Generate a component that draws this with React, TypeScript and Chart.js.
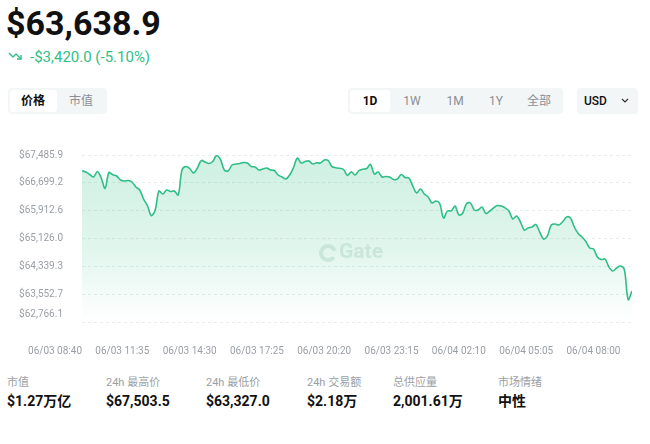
import React, { useEffect, useRef } from "react";
import { Chart, registerables } from "chart.js";

Chart.register(...registerables);

// ---- data ----
const STEP_MIN = 10; // minutes between samples, starting at 06/03 08:40
const PRICES = [
  67042, 67005, 66935, 66864, 67020, 66836, 66545, 66991, 66926, 66892,
  66779, 66751, 66765, 66723, 66582, 66497, 66242, 66058, 65776, 65917,
  66468, 66383, 66497, 66454, 66468, 66355, 67062, 67161, 67104, 66977,
  67118, 67330, 67288, 67246, 67302, 67470, 67359, 67062, 67034, 67203,
  67231, 67246, 67274, 67260, 67161, 67147, 67062, 67090, 67118, 67062,
  67048, 66921, 66864, 66807, 66921, 67133, 67401, 67260, 67302, 67316,
  67231, 67268, 67260, 67345, 67330, 67155, 67127, 67110, 67076, 66907,
  67014, 66921, 67042, 67082, 67104, 67217, 66949, 67005, 66864, 66878,
  66864, 66793, 66807, 66935, 66850, 66836, 66610, 66412, 66525, 66383,
  66299, 66129, 66186, 66115, 65705, 65903, 65908, 66044, 65790, 65846,
  66115, 66129, 65931, 65931, 66016, 65832, 65903, 65988, 66058, 66044,
  65993, 65903, 65677, 65762, 65592, 65366, 65422, 65451, 65521, 65309,
  65111, 65196, 65507, 65535, 65507, 65601, 65733, 65705, 65451, 65267,
  65168, 65041, 64857, 64829, 64602, 64532, 64546, 64320, 64207, 64291,
  64348, 64249, 63400, 63638.9,
];
const X_TICK_MINUTES = [0, 175, 350, 525, 700, 875, 1050, 1225, 1400];
const X_TICK_LABELS = [
  "06/03 08:40", "06/03 11:35", "06/03 14:30", "06/03 17:25", "06/03 20:20",
  "06/03 23:15", "06/04 02:10", "06/04 05:05", "06/04 08:00",
];
const X_MAX_MIN = 1430;
const Y_TICKS = [62766.1, 63552.7, 64339.3, 65126.0, 65912.6, 66699.2, 67485.9];
const Y_TICK_LABELS = [
  "$62,766.1", "$63,552.7", "$64,339.3", "$65,126.0", "$65,912.6", "$66,699.2", "$67,485.9",
];
const PRICE_TEXT = "$63,638.9";
const CHANGE_TEXT = "-$3,420.0 (-5.10%)";
const RANGE_TABS = ["1D", "1W", "1M", "1Y", "全部"];
const STAT_LABELS = ["市值", "24h 最高价", "24h 最低价", "24h 交易额", "总供应量", "市场情绪"];
const STAT_VALUES = ["$1.27万亿", "$67,503.5", "$63,327.0", "$2.18万", "2,001.61万", "中性"];

const GREEN = "#2fbf86";
const FONT = "Roboto, 'Noto Sans CJK SC', sans-serif";

const T: React.FC<{
  x: number; y: number; size: number; weight?: number; color?: string;
  align?: "left" | "center"; children: React.ReactNode;
}> = ({ x, y, size, weight = 400, color = "#111", align = "left", children }) => (
  <div
    style={{
      position: "absolute",
      left: x,
      top: y - size / 2 - 2,
      height: size + 4,
      lineHeight: `${size + 4}px`,
      fontSize: size,
      fontWeight: weight,
      color,
      whiteSpace: "nowrap",
      transform: align === "center" ? "translateX(-50%)" : undefined,
      fontFamily: FONT,
    }}
  >
    {children}
  </div>
);

const watermark = {
  id: "watermark",
  afterDatasetsDraw(chart: any) {
    const { ctx, chartArea } = chart;
    const cx = (chartArea.left + chartArea.right) / 2;
    const cy = chartArea.top + 97;
    ctx.save();
    ctx.beginPath();
    ctx.arc(cx - 29, cy + 1, 7, Math.PI * 0.2, Math.PI * 1.9);
    ctx.lineWidth = 4;
    ctx.strokeStyle = "rgba(196,226,212,0.8)";
    ctx.stroke();
    ctx.font = `bold 21px ${FONT}`;
    ctx.textBaseline = "middle";
    ctx.textAlign = "left";
    ctx.fillStyle = "rgba(196,226,212,0.8)";
    ctx.fillText("Gate", cx - 18, cy + 1);
    ctx.restore();
  },
};

const bottomYLabel = {
  id: "bottomYLabel",
  afterDraw(chart: any) {
    const y = chart.scales.y;
    const { ctx, chartArea } = chart;
    ctx.save();
    ctx.font = `10px ${FONT}`;
    ctx.fillStyle = "#9a9fa5";
    ctx.textAlign = "right";
    ctx.textBaseline = "middle";
    const py = Math.min(y.getPixelForValue(Y_TICKS[0]), chartArea.bottom - 8);
    ctx.fillText(Y_TICK_LABELS[0], y.right - 19, py);
    ctx.restore();
  },
};

function PriceChart() {
  const ref = useRef<HTMLCanvasElement>(null);
  useEffect(() => {
    if (!ref.current) return;
    const points = PRICES.map((p, i) => ({ x: i * STEP_MIN, y: p }));
    const chart = new Chart(ref.current, {
      type: "line",
      data: {
        datasets: [
          {
            data: points,
            borderColor: GREEN,
            borderWidth: 1.6,
            pointRadius: 0,
            tension: 0.35,
            fill: "start",
            backgroundColor: (c: any) => {
              const { chart } = c;
              const area = chart.chartArea;
              if (!area) return "rgba(47,191,134,0.2)";
              const g = chart.ctx.createLinearGradient(0, area.top, 0, area.bottom);
              g.addColorStop(0, "rgba(47,191,134,0.23)");
              g.addColorStop(0.55, "rgba(47,191,134,0.15)");
              g.addColorStop(1, "rgba(47,191,134,0.0)");
              return g;
            },
          },
        ],
      },
      options: {
        animation: false,
        responsive: false,
        maintainAspectRatio: false,
        layout: { padding: { top: 25, right: 18, bottom: 8, left: 0 } },
        plugins: { legend: { display: false }, tooltip: { enabled: false } },
        scales: {
          x: {
            type: "linear",
            min: 0,
            max: X_MAX_MIN,
            border: { display: false },
            grid: { display: false, drawTicks: false },
            afterBuildTicks: (s: any) => {
              s.ticks = X_TICK_MINUTES.map((v) => ({ value: v }));
            },
            afterFit: (s: any) => {
              s.height = 40;
            },
            ticks: {
              align: "end",
              padding: 23,
              maxRotation: 0,
              autoSkip: false,
              color: "#9a9fa5",
              font: { size: 10, family: FONT },
              callback: (v: any) => {
                const i = X_TICK_MINUTES.indexOf(Number(v));
                return i >= 0 ? X_TICK_LABELS[i] : "";
              },
            },
          },
          y: {
            min: Y_TICKS[0],
            max: Y_TICKS[Y_TICKS.length - 1],
            border: { display: false, dash: [3, 3] },
            grid: { color: "#e8eced", drawTicks: false, lineWidth: 1 },
            afterBuildTicks: (s: any) => {
              s.ticks = Y_TICKS.map((v) => ({ value: v }));
            },
            afterFit: (s: any) => {
              s.width = 82;
            },
            ticks: {
              padding: 19,
              autoSkip: false,
              color: (c: any) => (c.index === 0 ? "rgba(0,0,0,0)" : "#9a9fa5"),
              font: { size: 10, family: FONT },
              callback: (_v: any, i: number) => Y_TICK_LABELS[i],
            },
          },
        },
      },
      plugins: [watermark, bottomYLabel],
    } as any);
    return () => chart.destroy();
  }, []);
  return (
    <canvas
      ref={ref}
      width={650}
      height={240}
      style={{ position: "absolute", left: 0, top: 130, width: 650, height: 240 }}
    />
  );
}

export default function App() {
  const pill = "#f3f6f6";
  const tabX = [370, 412, 455, 496, 539];
  const statX = [7, 106, 206, 307, 393, 498];
  return (
    <div
      style={{
        position: "absolute",
        left: 0,
        top: 0,
        width: 650,
        height: 444,
        background: "#fff",
        overflow: "hidden",
        fontFamily: FONT,
      }}
    >
      <T x={6} y={23} size={34} weight={700} color="#111">{PRICE_TEXT}</T>
      <svg
        style={{ position: "absolute", left: 8, top: 51 }}
        width={15}
        height={11}
        viewBox="0 0 15 11"
      >
        <polyline points="1,2 5,6 8,3 13,8" fill="none" stroke={GREEN} strokeWidth={1.4} />
        <polyline points="9,8 13,8 13,4" fill="none" stroke={GREEN} strokeWidth={1.4} />
      </svg>
      <T x={30} y={57} size={15} color={GREEN}>{CHANGE_TEXT}</T>

      {/* left tabs */}
      <div style={{ position: "absolute", left: 8, top: 88, width: 99, height: 26, background: pill, borderRadius: 4 }} />
      <div style={{ position: "absolute", left: 10, top: 90, width: 47, height: 22, background: "#fff", borderRadius: 3 }} />
      <T x={33} y={101} size={12} weight={700} align="center">价格</T>
      <T x={81} y={101} size={12} color="#8a8f95" align="center">市值</T>

      {/* range tabs */}
      <div style={{ position: "absolute", left: 348, top: 88, width: 215, height: 26, background: pill, borderRadius: 4 }} />
      <div style={{ position: "absolute", left: 350, top: 90, width: 40, height: 22, background: "#fff", borderRadius: 3 }} />
      {RANGE_TABS.map((t, i) => (
        <T key={t} x={tabX[i]} y={101} size={12} weight={i === 0 ? 700 : 400} color={i === 0 ? "#111" : "#8a8f95"} align="center">
          {t}
        </T>
      ))}

      {/* currency */}
      <div style={{ position: "absolute", left: 577, top: 88, width: 61, height: 26, background: pill, borderRadius: 4 }} />
      <T x={584} y={101} size={12} weight={500}>USD</T>
      <svg style={{ position: "absolute", left: 621, top: 98 }} width={8} height={6} viewBox="0 0 8 6">
        <polyline points="1,1 4,4 7,1" fill="none" stroke="#333" strokeWidth={1.2} />
      </svg>

      <PriceChart />

      {STAT_LABELS.map((l, i) => (
        <T key={l} x={statX[i]} y={382} size={11} color="#9a9fa5">{l}</T>
      ))}
      {STAT_VALUES.map((v, i) => (
        <T key={v} x={statX[i]} y={401} size={14} weight={700} color="#111">{v}</T>
      ))}
    </div>
  );
}
